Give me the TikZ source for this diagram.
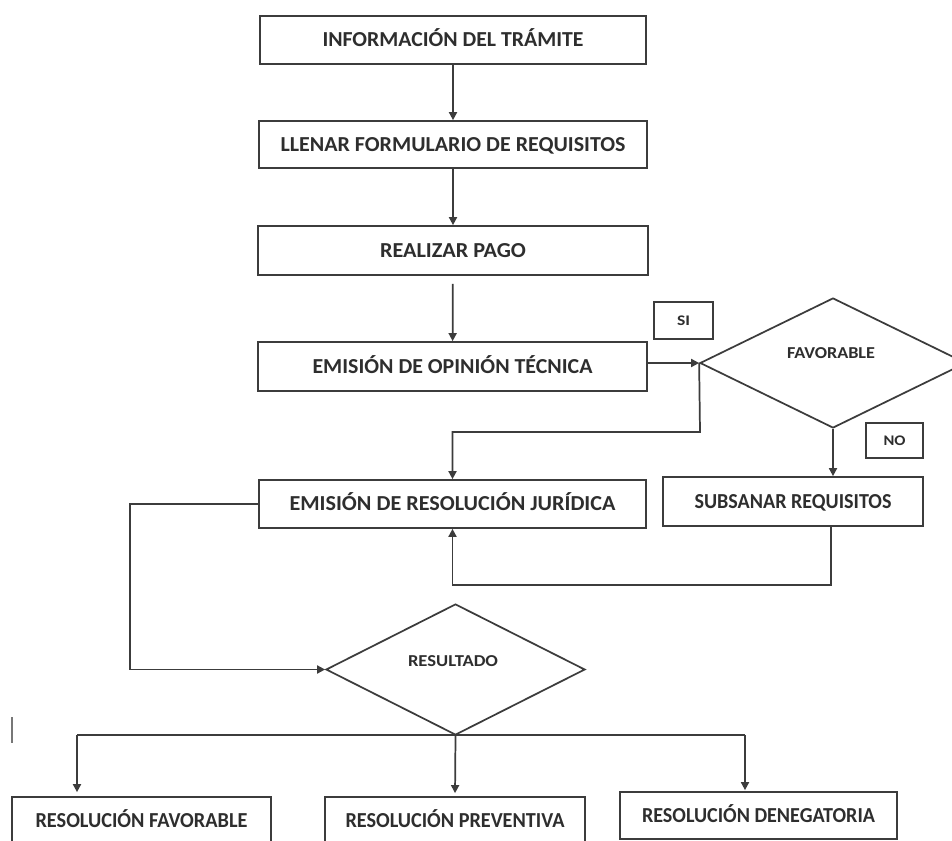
\documentclass[tikz,border=0pt]{standalone}
\usepackage{fontspec}
\setmainfont{Carlito}
\usepackage{graphicx}
\usetikzlibrary{shapes.geometric,arrows.meta}
\newlength\px \setlength\px{0.75pt}
\newcommand\fw[2]{\resizebox{#1\px}{\height}{#2}}
\definecolor{ln}{HTML}{3C3C3C}
\definecolor{tx}{HTML}{2E2E2E}
\begin{document}
\begin{tikzpicture}[x=0.75pt,y=-0.75pt,
  box/.style={draw=ln, line width=1.3pt, inner sep=0pt, text=tx, font=\bfseries\fontsize{16}{16}\selectfont, text height=10.3pt, text depth=0pt},
  tag/.style={draw=ln, line width=1.1pt, inner sep=0pt, text=tx, font=\bfseries\fontsize{11}{11}\selectfont, text height=7.1pt, text depth=0pt},
  dia/.style={diamond, draw=ln, line width=1.3pt, inner sep=0pt},
  lbl/.style={inner sep=0pt, text=tx, font=\bfseries\fontsize{12.5}{12.5}\selectfont, text height=8pt, text depth=0pt},
  line/.style={draw=ln, line width=1.3pt},
  arr/.style={line, -{Triangle[length=6pt,width=6pt]}}]
\clip (0,0) rectangle (952,841);
\fill[white] (0,0) rectangle (952,841);
% main column
\node[box, minimum width=386\px, minimum height=48\px] (n1) at (453,40) {\fw{261}{INFORMACIÓN DEL TRÁMITE}};
\node[box, minimum width=388\px, minimum height=47\px] (n2) at (453,144.5) {\fw{345}{LLENAR FORMULARIO DE REQUISITOS}};
\node[box, minimum width=390\px, minimum height=49\px] (n3) at (453,250.5) {\fw{146}{REALIZAR PAGO}};
\node[box, minimum width=389\px, minimum height=49\px] (n4) at (452.5,366.5) {\fw{280}{EMISIÓN DE OPINIÓN TÉCNICA}};
\node[box, minimum width=387\px, minimum height=48\px] (n5) at (452.5,504) {\fw{326}{EMISIÓN DE RESOLUCIÓN JURÍDICA}};
\node[box, minimum width=260\px, minimum height=49\px] (n6) at (793,501.5) {\fw{197}{SUBSANAR REQUISITOS}};
% decisions
\node[dia, minimum width=266\px, minimum height=130\px] (d1) at (833,363) {};
\node[lbl] (d1t) at (831,353) {\fw{88}{FAVORABLE}};
\node[dia, minimum width=259\px, minimum height=131\px] (d2) at (455.5,669.5) {};
\node[lbl] (d2t) at (453,661) {\fw{90}{RESULTADO}};
% tags
\node[tag, minimum width=59\px, minimum height=37\px] (si) at (683.5,320.5) {\fw{13}{SI}};
\node[tag, minimum width=57\px, minimum height=35\px] (no) at (894.5,440.5) {\fw{22}{NO}};
% results
\node[box, minimum width=259\px, minimum height=48\px] (b1) at (141.5,821) {\fw{212}{RESOLUCIÓN FAVORABLE}};
\node[box, minimum width=260\px, minimum height=48\px] (b2) at (455,821) {\fw{219}{RESOLUCIÓN PREVENTIVA}};
\node[box, minimum width=277\px, minimum height=47\px] (b3) at (758.5,815.5) {\fw{233}{RESOLUCIÓN DENEGATORIA}};
% connectors
\draw[arr] (n1) -- (n2);
\draw[arr] (n2) -- (n3);
\draw[arr, shorten <=8\px] (n3) -- (n4);
\draw[arr] (n4.east |- d1.west) -- (d1.west);
\coordinate (j1) at (700,432);
\draw[arr] (d1.west) -- (j1) -| (n5.north);
\draw[arr] (d1.south) -- (d1.south |- n6.north);
\coordinate (j2) at (831,585);
\draw[arr] (j2 |- n6.south) -- (j2) -| (n5.south);
\coordinate (j3) at (130,669.5);
\draw[arr] (n5.west) -| (j3) -- (d2.west);
\coordinate (bl) at (77,735);
\coordinate (br) at (745,735);
\draw[line] (bl) -- (br);
\draw[arr, shorten >=4\px] (bl) -- (bl |- b1.north);
\draw[arr, shorten >=3\px] (d2.south) -- (b2.north);
\draw[arr, shorten >=1\px] (br) -- (br |- b3.north);
% stray mark
\coordinate (m1) at (12,717);
\coordinate (m2) at (12,743);
\draw[ln!70, line width=1.2pt] (m1) -- (m2);
\end{tikzpicture}
\end{document}
